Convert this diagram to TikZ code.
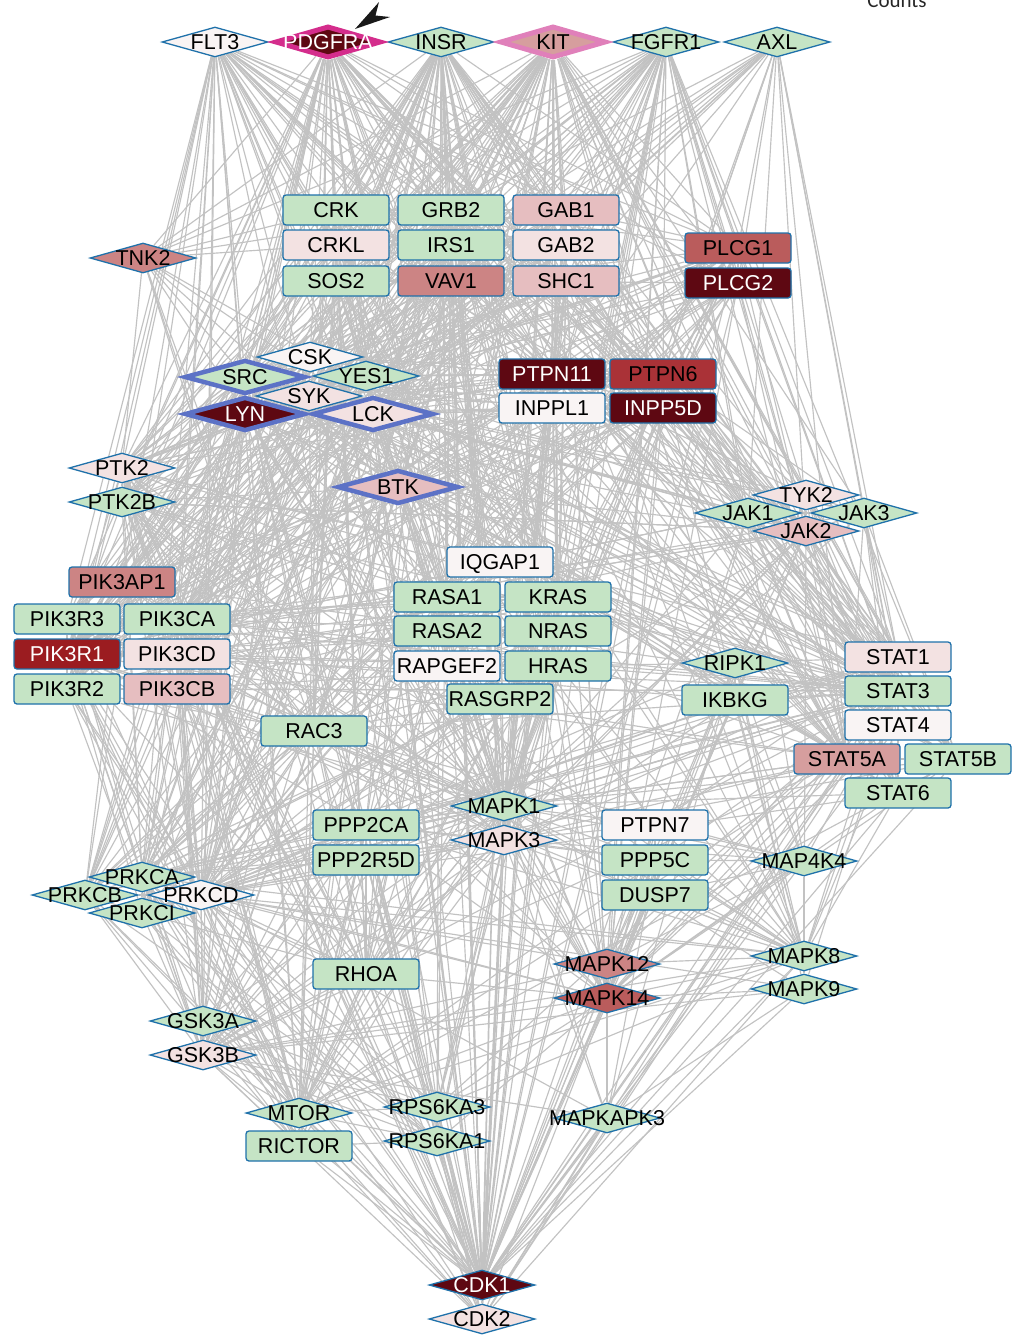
\documentclass[tikz,border=0pt]{standalone}
\usepackage{fontspec}
\setmainfont{Liberation Sans}
\newfontfamily\fuenteleyenda{Carlito}
\usepackage{tikz}
\usetikzlibrary{shapes.geometric, backgrounds}
\definecolor{bordeazul}{RGB}{31,113,170}
\definecolor{azulgrueso}{RGB}{92,114,198}
\definecolor{magentaborde}{RGB}{212,45,140}
\definecolor{rosaborde}{RGB}{224,128,186}
\definecolor{grisarista}{RGB}{194,194,194}
\definecolor{verdeclaro}{RGB}{197,228,197}
\definecolor{casiblanco}{RGB}{249,244,244}
\definecolor{rosa1}{RGB}{243,226,226}
\definecolor{rosa2}{RGB}{230,190,192}
\definecolor{rosa3}{RGB}{214,158,158}
\definecolor{rosa4}{RGB}{204,132,132}
\definecolor{rosa5}{RGB}{186,92,92}
\definecolor{rojo1}{RGB}{170,50,55}
\definecolor{rojo2}{RGB}{155,28,32}
\definecolor{granate}{RGB}{94,8,18}
\newcommand{\etiq}[1]{\makebox[0pt]{#1}}

\begin{document}
\begin{tikzpicture}[
  x=1pt, y=-1pt,
  gen/.style={draw=bordeazul, line width=1.3pt, inner sep=0pt,
              minimum width=106pt, minimum height=30pt,
              text height=15.5pt, text depth=0pt,
              font=\fontsize{21.5}{24}\selectfont},
  rombo/.style={gen, diamond},
  caja/.style={gen, rectangle, rounded corners=3pt},
  quinasa/.style={rombo, draw=azulgrueso, line width=4.5pt,
                  minimum width=121pt, minimum height=34pt},
  receptor/.style={rombo, line width=5pt, minimum height=32pt},
  arista/.style={draw=grisarista, line width=1.15pt}
]
\useasboundingbox (0,0) rectangle (1026,1336);

% Leyenda (cortada)
\node[font=\fuenteleyenda\fontsize{21}{24}\selectfont, text=black!85, anchor=base]
  (counts) at (897,7) {Counts};

% Receptores
\node[rombo, fill=casiblanco] (FLT3)  at (215,42) {\etiq{FLT3}};
\node[rombo, fill=verdeclaro] (INSR)  at (441,42) {\etiq{INSR}};
\node[rombo, fill=verdeclaro] (FGFR1) at (666,42) {\etiq{FGFR1}};
\node[rombo, fill=verdeclaro] (AXL)   at (777,42) {\etiq{AXL}};
\node[receptor, draw=magentaborde, fill=granate, text=white]
  (PDGFRA) at (328,42) {\etiq{PDGFRA}};
\node[receptor, draw=rosaborde, fill=rosa3] (KIT) at (553,42) {\etiq{KIT}};
\fill[black!90] (355,29) -- (379,2) -- (375.5,15.5) -- (390,17) -- cycle;

% Adaptadores
\node[caja, fill=verdeclaro] (CRK)  at (336,210) {\etiq{CRK}};
\node[caja, fill=verdeclaro] (GRB2) at (451,210) {\etiq{GRB2}};
\node[caja, fill=rosa2]      (GAB1) at (566,210) {\etiq{GAB1}};
\node[caja, fill=rosa1]      (CRKL) at (336,245) {\etiq{CRKL}};
\node[caja, fill=verdeclaro] (IRS1) at (451,245) {\etiq{IRS1}};
\node[caja, fill=rosa1]      (GAB2) at (566,245) {\etiq{GAB2}};
\node[caja, fill=verdeclaro] (SOS2) at (336,281) {\etiq{SOS2}};
\node[caja, fill=rosa4]      (VAV1) at (451,281) {\etiq{VAV1}};
\node[caja, fill=rosa2]      (SHC1) at (566,281) {\etiq{SHC1}};
\node[caja, fill=rosa5]      (PLCG1) at (738,248) {\etiq{PLCG1}};
\node[caja, fill=granate, text=white] (PLCG2) at (738,283) {\etiq{PLCG2}};
\node[rombo, fill=rosa4]     (TNK2) at (143,258) {\etiq{TNK2}};

% Familia SRC
\node[rombo, fill=casiblanco] (CSK)  at (310,357) {\etiq{CSK}};
\node[rombo, fill=verdeclaro] (YES1) at (366,376) {\etiq{YES1}};
\node[rombo, fill=rosa1]      (SYK)  at (309,396) {\etiq{SYK}};
\node[quinasa, fill=verdeclaro] (SRC) at (245,377) {\etiq{SRC}};
\node[quinasa, fill=granate, text=white] (LYN) at (245,414) {\etiq{LYN}};
\node[quinasa, fill=rosa1]    (LCK)  at (373,414) {\etiq{LCK}};
\node[quinasa, fill=rosa2]    (BTK)  at (398,487) {\etiq{BTK}};

% Fosfatasas
\node[caja, fill=granate, text=white] (PTPN11) at (552,374) {\etiq{PTPN11}};
\node[caja, fill=rojo1]               (PTPN6)  at (663,374) {\etiq{PTPN6}};
\node[caja, fill=casiblanco]          (INPPL1) at (552,408) {\etiq{INPPL1}};
\node[caja, fill=granate, text=white] (INPP5D) at (663,408) {\etiq{INPP5D}};

\node[rombo, fill=rosa1]      (PTK2)  at (122,468) {\etiq{PTK2}};
\node[rombo, fill=verdeclaro] (PTK2B) at (122,502) {\etiq{PTK2B}};

% JAK
\node[rombo, fill=rosa1]      (TYK2) at (806,495) {\etiq{TYK2}};
\node[rombo, fill=verdeclaro] (JAK1) at (748,513) {\etiq{JAK1}};
\node[rombo, fill=verdeclaro] (JAK3) at (864,513) {\etiq{JAK3}};
\node[rombo, fill=rosa2]      (JAK2) at (806,531) {\etiq{JAK2}};

% PI3K
\node[caja, fill=rosa4]      (PIK3AP1) at (122,582) {\etiq{PIK3AP1}};
\node[caja, fill=verdeclaro] (PIK3R3)  at (67,619)  {\etiq{PIK3R3}};
\node[caja, fill=verdeclaro] (PIK3CA)  at (177,619) {\etiq{PIK3CA}};
\node[caja, fill=rojo2, text=white] (PIK3R1) at (67,654) {\etiq{PIK3R1}};
\node[caja, fill=rosa1]      (PIK3CD)  at (177,654) {\etiq{PIK3CD}};
\node[caja, fill=verdeclaro] (PIK3R2)  at (67,689)  {\etiq{PIK3R2}};
\node[caja, fill=rosa2]      (PIK3CB)  at (177,689) {\etiq{PIK3CB}};

% RAS
\node[caja, fill=casiblanco] (IQGAP1)  at (500,562) {\etiq{IQGAP1}};
\node[caja, fill=verdeclaro] (RASA1)   at (447,597) {\etiq{RASA1}};
\node[caja, fill=verdeclaro] (KRAS)    at (558,597) {\etiq{KRAS}};
\node[caja, fill=verdeclaro] (RASA2)   at (447,631) {\etiq{RASA2}};
\node[caja, fill=verdeclaro] (NRAS)    at (558,631) {\etiq{NRAS}};
\node[caja, fill=casiblanco] (RAPGEF2) at (447,666) {\etiq{RAPGEF2}};
\node[caja, fill=verdeclaro] (HRAS)    at (558,666) {\etiq{HRAS}};
\node[caja, fill=verdeclaro] (RASGRP2) at (500,699) {\etiq{RASGRP2}};
\node[caja, fill=verdeclaro] (RAC3)    at (314,731) {\etiq{RAC3}};

% STAT
\node[rombo, fill=verdeclaro] (RIPK1)  at (735,663) {\etiq{RIPK1}};
\node[caja, fill=verdeclaro]  (IKBKG)  at (735,700) {\etiq{IKBKG}};
\node[caja, fill=rosa1]       (STAT1)  at (898,657) {\etiq{STAT1}};
\node[caja, fill=verdeclaro]  (STAT3)  at (898,691) {\etiq{STAT3}};
\node[caja, fill=casiblanco]  (STAT4)  at (898,725) {\etiq{STAT4}};
\node[caja, fill=rosa3]       (STAT5A) at (847,759) {\etiq{STAT5A}};
\node[caja, fill=verdeclaro]  (STAT5B) at (958,759) {\etiq{STAT5B}};
\node[caja, fill=verdeclaro]  (STAT6)  at (898,793) {\etiq{STAT6}};

% MAPK
\node[rombo, fill=verdeclaro] (MAPK1)   at (504,806) {\etiq{MAPK1}};
\node[rombo, fill=rosa1]      (MAPK3)   at (504,840) {\etiq{MAPK3}};
\node[caja, fill=verdeclaro]  (PPP2CA)  at (366,825) {\etiq{PPP2CA}};
\node[caja, fill=verdeclaro]  (PPP2R5D) at (366,860) {\etiq{PPP2R5D}};
\node[caja, fill=casiblanco]  (PTPN7)   at (655,825) {\etiq{PTPN7}};
\node[caja, fill=verdeclaro]  (PPP5C)   at (655,860) {\etiq{PPP5C}};
\node[caja, fill=verdeclaro]  (DUSP7)   at (655,895) {\etiq{DUSP7}};
\node[rombo, fill=verdeclaro] (MAP4K4)  at (804,861) {\etiq{MAP4K4}};
\node[caja, fill=verdeclaro]  (RHOA)    at (366,974) {\etiq{RHOA}};
\node[rombo, fill=rosa4]      (MAPK12)  at (607,964) {\etiq{MAPK12}};
\node[rombo, fill=rosa5]      (MAPK14)  at (607,998) {\etiq{MAPK14}};
\node[rombo, fill=verdeclaro] (MAPK8)   at (804,956) {\etiq{MAPK8}};
\node[rombo, fill=verdeclaro] (MAPK9)   at (804,989) {\etiq{MAPK9}};

% PKC
\node[rombo, fill=verdeclaro] (PRKCA) at (142,877) {\etiq{PRKCA}};
\node[rombo, fill=verdeclaro] (PRKCB) at (85,895)  {\etiq{PRKCB}};
\node[rombo, fill=casiblanco] (PRKCD) at (201,895) {\etiq{PRKCD}};
\node[rombo, fill=verdeclaro] (PRKCI) at (142,913) {\etiq{PRKCI}};
\node[rombo, fill=verdeclaro] (GSK3A) at (203,1021) {\etiq{GSK3A}};
\node[rombo, fill=rosa1]      (GSK3B) at (203,1055) {\etiq{GSK3B}};

% mTOR, RSK, CDK
\node[rombo, fill=verdeclaro] (MTOR)     at (299,1113) {\etiq{MTOR}};
\node[caja, fill=verdeclaro]  (RICTOR)   at (299,1146) {\etiq{RICTOR}};
\node[rombo, fill=verdeclaro] (RPS6KA3)  at (437,1107) {\etiq{RPS6KA3}};
\node[rombo, fill=verdeclaro] (RPS6KA1)  at (437,1141) {\etiq{RPS6KA1}};
\node[rombo, fill=verdeclaro] (MAPKAPK3) at (607,1118) {\etiq{MAPKAPK3}};
\node[rombo, fill=granate, text=white] (CDK1) at (482,1285) {\etiq{CDK1}};
\node[rombo, fill=rosa1]      (CDK2)     at (482,1319) {\etiq{CDK2}};

% Interacciones
\begin{scope}[on background layer]
\foreach \s/\ts in {
  FLT3/{CRK,CRKL,GRB2,GAB1,GAB2,SOS2,VAV1,SHC1,PLCG1,PLCG2,SRC,LYN,SYK,LCK,BTK,PTPN11,PTPN6,INPPL1,INPP5D,PTK2,PIK3AP1,PIK3R1,PIK3R2,PIK3R3,PIK3CA,PIK3CD,STAT3,STAT5A,STAT5B,KRAS,NRAS,HRAS,MAPK1,MAPK3,PRKCA,PRKCB,PRKCD,MTOR,CDK1,GSK3B},
  PDGFRA/{CRK,CRKL,GRB2,GAB1,SOS2,IRS1,SHC1,VAV1,PLCG1,PLCG2,SRC,LYN,YES1,CSK,LCK,PTPN11,PTPN6,INPPL1,INPP5D,PTK2,PTK2B,TNK2,PIK3R1,PIK3R2,PIK3R3,PIK3CA,PIK3CB,PIK3CD,JAK1,JAK2,STAT1,STAT3,STAT5A,STAT5B,STAT6,KRAS,HRAS,NRAS,RASA1,RASA2,IQGAP1,MAPK1,MAPK3,PRKCA,PRKCB,PRKCD,PRKCI,RHOA,RAC3,MTOR,CDK1,GSK3A},
  INSR/{CRK,CRKL,GRB2,GAB1,GAB2,IRS1,SOS2,SHC1,VAV1,PLCG1,SRC,LYN,YES1,CSK,SYK,TNK2,PTPN11,PTPN6,INPPL1,INPP5D,PTK2,PTK2B,PIK3R1,PIK3R2,PIK3R3,PIK3CA,PIK3CB,PIK3CD,JAK1,JAK2,TYK2,STAT1,STAT3,STAT5A,STAT5B,KRAS,HRAS,NRAS,RASA1,RAPGEF2,RASGRP2,MAPK1,MAPK3,MAPK8,MAPK14,PRKCA,PRKCB,PRKCD,PRKCI,MTOR,RICTOR,RPS6KA1,GSK3A,GSK3B,RHOA,PPP2CA,CDK1},
  KIT/{CRK,CRKL,GRB2,GAB1,GAB2,IRS1,SOS2,SHC1,VAV1,PLCG1,PLCG2,SRC,LYN,YES1,CSK,SYK,LCK,BTK,TNK2,PTPN11,PTPN6,INPPL1,INPP5D,PTK2,PTK2B,PIK3AP1,PIK3R1,PIK3R2,PIK3R3,PIK3CA,PIK3CB,PIK3CD,JAK1,JAK2,JAK3,TYK2,STAT1,STAT3,STAT4,STAT5A,STAT5B,STAT6,KRAS,HRAS,NRAS,RASA1,RASA2,MAPK1,MAPK3,MAPK14,MAPK8,PRKCA,PRKCB,PRKCD,MTOR,RAC3,RHOA,CDK1,GSK3B},
  FGFR1/{CRK,CRKL,GRB2,GAB1,GAB2,IRS1,SOS2,SHC1,PLCG1,PLCG2,SRC,LYN,YES1,CSK,LCK,TNK2,PTPN11,PTPN6,INPPL1,PTK2,PIK3R1,PIK3R2,PIK3CA,PIK3CB,JAK1,JAK2,TYK2,STAT1,STAT3,STAT5A,STAT5B,KRAS,HRAS,NRAS,RASA1,IQGAP1,MAPK1,MAPK3,MAPK14,MAPK12,PRKCA,PRKCD,CDK1,MAP4K4},
  AXL/{GRB2,GAB1,SHC1,PLCG1,PLCG2,SRC,LYN,LCK,PTPN11,PTPN6,PIK3R1,PIK3R2,PIK3CA,JAK1,JAK2,JAK3,STAT1,STAT3,STAT5A,MAPK1,MAPK3,VAV1},
  TNK2/{CRK,CRKL,GRB2,SRC,LCK,BTK,PTK2,STAT3,MAPK1,RAC3,RHOA,CDK1},
  SRC/{CSK,YES1,SYK,LYN,LCK,BTK,PTK2,PTK2B,PIK3R1,PIK3R2,PIK3R3,PIK3CA,PIK3CD,PIK3AP1,STAT1,STAT3,STAT5A,STAT5B,STAT6,JAK1,JAK2,JAK3,TYK2,PLCG1,PLCG2,VAV1,SHC1,CRK,CRKL,GAB1,GAB2,IRS1,PTPN6,PTPN11,INPP5D,INPPL1,PRKCA,PRKCD,PRKCB,MAPK1,MAPK3,MAPK14,IQGAP1,RASA1,CDK1,CDK2,IKBKG,RIPK1,RHOA,RAC3,MTOR,GSK3B,PPP2CA},
  LYN/{SYK,BTK,LCK,CSK,PTK2,PTK2B,PIK3R1,PIK3R2,PIK3CA,PIK3CD,PIK3AP1,STAT3,STAT5A,STAT5B,JAK2,PLCG1,PLCG2,VAV1,SHC1,CRK,GAB1,GAB2,PTPN6,PTPN11,INPP5D,INPPL1,PRKCB,PRKCD,MAPK1,MAPK3,MAPK14,CDK1,RASA1,SOS2},
  YES1/{CSK,SYK,PTK2,PIK3R1,PIK3CA,STAT3,JAK2,PLCG1,SHC1,CRK,GAB1,PTPN11,PTPN6,PRKCD,MAPK1,CDK1,IRS1},
  LCK/{CSK,SYK,PTK2,PTK2B,PIK3R1,PIK3CD,STAT1,STAT3,STAT5A,STAT5B,JAK1,JAK3,PLCG1,PLCG2,VAV1,SHC1,CRK,CRKL,GAB2,PTPN6,PTPN7,PTPN11,INPP5D,PRKCA,PRKCD,PRKCI,MAPK1,MAPK3,MAPK14,CDK1,IKBKG,RASGRP2},
  CSK/{SYK,PTK2,PTK2B,PTPN6,PTPN11,PTPN7,INPPL1,STAT3,PRKCD,PIK3R1,CRK,GAB1},
  SYK/{BTK,PTK2,PTK2B,PIK3R1,PIK3CD,PIK3AP1,STAT3,STAT5A,STAT5B,JAK2,PLCG1,PLCG2,VAV1,SHC1,CRKL,GAB2,PTPN6,PTPN11,INPP5D,PRKCA,PRKCB,PRKCD,MAPK1,MAPK3,MAPK14,CDK1,RAC3},
  BTK/{PIK3AP1,PIK3R1,PIK3CD,PTK2B,STAT5A,PLCG1,PLCG2,VAV1,PTPN6,PTPN11,INPP5D,PRKCB,PRKCA,MAPK1,MAPK14,CDK1,RIPK1,IKBKG,JAK2,RASA1,GSK3B},
  CRK/{CRKL,GAB1,GAB2,SOS2,PTK2,PIK3R1,RAPGEF2,RASA1,RAC3,RHOA,MAPK1,MAPK8,STAT5A,PTPN11,CDK1},
  CRKL/{GAB1,GAB2,SOS2,PTK2,PTK2B,PIK3R1,RAPGEF2,RAC3,MAPK8,STAT5A,PTPN11,INPP5D},
  GRB2/{GAB1,GAB2,IRS1,SOS2,SHC1,VAV1,PLCG1,PTPN11,PTPN6,INPPL1,INPP5D,PTK2,PTK2B,PIK3R1,PIK3R2,PIK3R3,PIK3CA,KRAS,NRAS,HRAS,RASA1,RASGRP2,STAT3,STAT5A,MAPK1,MAPK3,JAK2,PRKCD,CDK1,RAC3},
  GAB1/{GAB2,SHC1,PTPN11,PIK3R1,PIK3R2,PIK3R3,PIK3CA,PIK3CB,PLCG1,MAPK1,MAPK3,STAT3,RASA1,INPPL1},
  GAB2/{SHC1,PTPN11,PIK3R1,PIK3R2,PIK3CA,PIK3CD,INPP5D,MAPK1,STAT5A,JAK2,SYK},
  IRS1/{PIK3R1,PIK3R2,PIK3R3,PIK3CA,PIK3CB,PTPN11,PTPN6,INPPL1,JAK1,JAK2,STAT3,MAPK1,MAPK3,MAPK8,MTOR,RPS6KA1,GSK3B,PRKCD,PRKCA,PPP2CA,CDK1},
  SOS2/{KRAS,NRAS,HRAS,RASA1,RASA2,SHC1,MAPK1,MAPK3,RAC3,RHOA,RPS6KA3,RPS6KA1},
  VAV1/{RAC3,RHOA,PLCG1,PLCG2,SHC1,PIK3R1,PIK3CD,SYK,PRKCA,STAT3,MAPK14,CDK1},
  SHC1/{PTPN11,PTPN6,INPPL1,INPP5D,PIK3R1,PIK3CA,STAT3,STAT5A,JAK1,JAK2,MAPK1,MAPK3,MAPK8,MAPK14,KRAS,HRAS,PTK2,CDK1},
  PLCG1/{PLCG2,PRKCA,PRKCB,PRKCD,PRKCI,PTK2,PTK2B,RASGRP2,STAT3,JAK2,PIK3R1,PIK3CA,INPP5D,MAPK1,CDK1,RAC3},
  PLCG2/{PRKCA,PRKCB,PRKCD,RASGRP2,PIK3R1,PIK3CD,STAT5A,JAK2,MAPK14,CDK1,INPP5D},
  PTPN11/{PTPN6,STAT1,STAT3,STAT5A,STAT5B,JAK1,JAK2,TYK2,PIK3R1,PIK3R2,PIK3CA,KRAS,HRAS,NRAS,RASA1,MAPK1,MAPK3,MAPK14,PTK2,INPP5D,CDK1,PRKCD,GSK3B},
  PTPN6/{STAT1,STAT3,STAT4,STAT5A,STAT5B,STAT6,JAK1,JAK2,JAK3,TYK2,PIK3R1,PIK3CD,MAPK1,MAPK3,MAPK14,PTK2B,INPP5D,PRKCD,PRKCA,CDK1,IKBKG},
  INPPL1/{INPP5D,PIK3R1,PIK3CA,PIK3CB,PTK2,MTOR,MAPK1,STAT5A,STAT3,CDK1},
  INPP5D/{PIK3R1,PIK3CA,PIK3CD,PIK3AP1,STAT5A,STAT5B,JAK2,MAPK1,MAPK14,PRKCB,CDK1,RASA1},
  PTK2/{PTK2B,PIK3R1,PIK3R2,PIK3CA,PIK3CB,PIK3CD,STAT1,STAT3,RAC3,RHOA,IQGAP1,MAPK1,MAPK3,MAPK8,PRKCA,PRKCD,RASA1,GSK3B,CDK1,CDK2,PPP2CA,MTOR},
  PTK2B/{PIK3R1,PIK3CA,STAT3,STAT5A,RAC3,RHOA,MAPK1,MAPK3,MAPK8,MAPK14,PRKCD,PRKCA,JAK2,CDK1,RASA1},
  PIK3R1/{PIK3CA,PIK3CB,PIK3CD,PIK3AP1,PIK3R2,PIK3R3,MTOR,RICTOR,GSK3B,RAC3,RHOA,STAT3,STAT5A,JAK1,JAK2,KRAS,HRAS,NRAS,PRKCA,PRKCD,PRKCI,MAPK1,MAPK3,MAPK8,CDK1,PPP2CA},
  PIK3R2/{PIK3CA,PIK3CB,PIK3CD,PIK3R3,MTOR,GSK3B,RAC3,STAT3,JAK2,KRAS,PRKCD,MAPK1,CDK1},
  PIK3R3/{PIK3CA,PIK3CB,PIK3CD,MTOR,GSK3B,STAT3,KRAS,MAPK1,PRKCA},
  PIK3CA/{PIK3CB,PIK3CD,MTOR,RICTOR,GSK3A,GSK3B,RAC3,RHOA,KRAS,HRAS,NRAS,RASA1,PRKCA,PRKCD,PRKCI,MAPK1,MAPK3,STAT3,CDK1,CDK2,RPS6KA1},
  PIK3CB/{PIK3CD,MTOR,GSK3B,RAC3,RHOA,KRAS,HRAS,PRKCD,MAPK1,STAT3,CDK1},
  PIK3CD/{MTOR,GSK3B,RAC3,KRAS,HRAS,NRAS,PRKCB,PRKCD,MAPK1,MAPK3,STAT5A,CDK1,IKBKG},
  PIK3AP1/{PIK3CA,PIK3CB,PIK3CD,PRKCB,MAPK1,STAT3,RAC3},
  KRAS/{NRAS,HRAS,RASA1,RASA2,RAPGEF2,RASGRP2,IQGAP1,RAC3,RHOA,MAPK1,MAPK3,RIPK1,PRKCD,MTOR,PLCG1,STAT3,CDK1,PPP2CA,RPS6KA1},
  NRAS/{HRAS,RASA1,RASA2,RAPGEF2,RASGRP2,IQGAP1,RAC3,MAPK1,MAPK3,PRKCD,MTOR,PLCG1,CDK1},
  HRAS/{RASA1,RASA2,RAPGEF2,RASGRP2,IQGAP1,RAC3,RHOA,MAPK1,MAPK3,MAPK8,MAPK14,RIPK1,PRKCA,PRKCD,MTOR,PLCG1,STAT3,CDK1,PPP2CA,GSK3B,RPS6KA3},
  RASA1/{RASA2,RAPGEF2,IQGAP1,RHOA,MAPK1,PRKCD,CDK1},
  IQGAP1/{RAC3,RHOA,MAPK1,MAPK3,PRKCA,CDK1,CDK2,GSK3B,STAT3,PPP2CA},
  RASGRP2/{RAPGEF2,MAPK1,PRKCA,PRKCB,PRKCD,RAC3},
  RAC3/{RHOA,PRKCA,PRKCB,PRKCD,PRKCI,MAPK1,MAPK14,MAPK8,MTOR,RICTOR,GSK3B,CDK1,MAP4K4},
  RHOA/{PRKCA,PRKCD,PRKCI,MAPK1,MAPK3,MAPK14,MTOR,RICTOR,GSK3B,CDK1,CDK2,PPP2CA,RPS6KA3},
  JAK1/{JAK2,JAK3,TYK2,STAT1,STAT3,STAT4,STAT5A,STAT5B,STAT6,PIK3R1,MAPK1,MAPK14,CDK1},
  JAK2/{JAK3,TYK2,STAT1,STAT3,STAT4,STAT5A,STAT5B,STAT6,PIK3R1,PIK3CA,MAPK1,MAPK3,MAPK14,MAPK8,PRKCD,PTK2B,CDK1,RIPK1,IKBKG,RHOA},
  JAK3/{TYK2,STAT1,STAT3,STAT4,STAT5A,STAT5B,STAT6,PIK3R1,MAPK1},
  TYK2/{STAT1,STAT3,STAT4,STAT5A,STAT5B,STAT6,MAPK14},
  STAT1/{STAT3,STAT4,STAT5A,STAT6,MAPK1,MAPK3,MAPK14,MAPK8,PRKCD,PRKCA,CDK1,CDK2,IKBKG,RIPK1,PPP2CA,PTPN7},
  STAT3/{STAT4,STAT5A,STAT5B,STAT6,MAPK1,MAPK3,MAPK14,MAPK8,MAPK9,MAPK12,PRKCD,PRKCA,PRKCI,CDK1,CDK2,MTOR,GSK3B,IKBKG,RIPK1,RAC3,PPP2CA,PPP2R5D,DUSP7,MAP4K4,RPS6KA3},
  STAT4/{STAT5A,MAPK14,MAPK8,CDK1},
  STAT5A/{STAT5B,STAT6,MAPK1,MAPK3,MAPK14,PRKCD,CDK1,CDK2,MTOR,GSK3B,PPP2CA},
  STAT5B/{STAT6,MAPK1,MAPK14,PRKCD,CDK1,MTOR},
  STAT6/{MAPK1,MAPK8,MAPK14,CDK1,PRKCD},
  RIPK1/{IKBKG,MAPK8,MAPK9,MAPK14,MAPK12,MAP4K4,CDK1,PRKCD,MAPKAPK3},
  IKBKG/{MAPK8,MAPK14,MAP4K4,PRKCD,PRKCI,CDK1,GSK3B},
  MAPK1/{MAPK3,RPS6KA1,RPS6KA3,DUSP7,PTPN7,PPP2CA,PPP2R5D,PPP5C,MAPKAPK3,CDK1,CDK2,GSK3A,GSK3B,MTOR,RICTOR,PRKCA,PRKCD,PRKCB,PRKCI,MAP4K4,MAPK14,MAPK8,MAPK12,RHOA},
  MAPK3/{RPS6KA1,RPS6KA3,DUSP7,PTPN7,PPP2CA,PPP2R5D,PPP5C,MAPKAPK3,CDK1,CDK2,GSK3B,MTOR,PRKCA,PRKCD,MAP4K4,MAPK14},
  MAPK14/{MAPK12,MAPKAPK3,DUSP7,PTPN7,PPP2CA,PPP5C,MAPK8,MAPK9,MAP4K4,CDK1,CDK2,GSK3B,RPS6KA3,RPS6KA1,PRKCD,PRKCA,MTOR},
  MAPK12/{MAPKAPK3,DUSP7,PTPN7,PPP5C,MAPK8,MAP4K4,CDK1,GSK3B,PRKCD},
  MAPK8/{MAPK9,MAP4K4,DUSP7,PTPN7,GSK3B,PRKCD,PRKCA,CDK1,CDK2,MTOR,RPS6KA3,PPP2CA,PPP5C},
  MAPK9/{MAP4K4,DUSP7,GSK3B,PRKCD,CDK1,MAPKAPK3},
  MAP4K4/{DUSP7,PPP5C,PTPN7,CDK1},
  PPP2CA/{PPP2R5D,PPP5C,MTOR,RICTOR,GSK3A,GSK3B,PRKCA,PRKCD,PRKCI,RPS6KA1,RPS6KA3,CDK1,CDK2},
  PPP2R5D/{MTOR,GSK3B,PRKCA,CDK1,RPS6KA1},
  PTPN7/{DUSP7,CDK1},
  DUSP7/{CDK1},
  PPP5C/{CDK1,MAPKAPK3},
  PRKCA/{PRKCB,PRKCD,PRKCI,GSK3A,GSK3B,MTOR,RICTOR,RPS6KA1,RPS6KA3,CDK1,CDK2},
  PRKCB/{PRKCD,PRKCI,GSK3B,MTOR,RICTOR,CDK1,RPS6KA1},
  PRKCD/{PRKCI,GSK3A,GSK3B,MTOR,RICTOR,RPS6KA1,RPS6KA3,CDK1,CDK2,MAPKAPK3},
  PRKCI/{GSK3B,MTOR,CDK1,RPS6KA1},
  GSK3A/{GSK3B,MTOR,RICTOR,CDK1,CDK2,RPS6KA1,RPS6KA3},
  GSK3B/{MTOR,RICTOR,CDK1,CDK2,RPS6KA1,RPS6KA3,MAPKAPK3},
  MTOR/{RICTOR,RPS6KA1,RPS6KA3,CDK1,CDK2},
  RICTOR/{RPS6KA1,CDK1},
  RPS6KA1/{RPS6KA3,CDK1,CDK2},
  RPS6KA3/{CDK1,CDK2},
  MAPKAPK3/{CDK1,CDK2},
  CDK1/{CDK2}}
  {\foreach \t in \ts {\draw[arista] (\s) -- (\t);}}
\end{scope}
\end{tikzpicture}
\end{document}
